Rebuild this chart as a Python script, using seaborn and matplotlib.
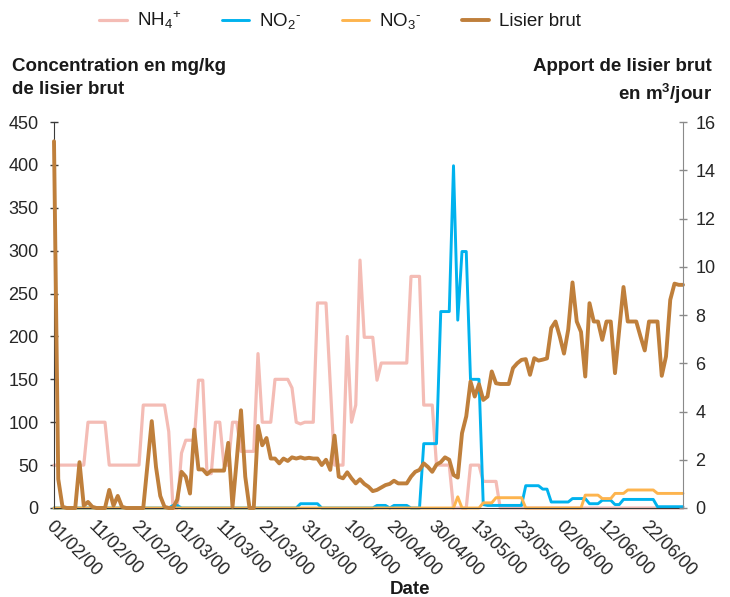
import numpy as np
import pandas as pd
import matplotlib
matplotlib.use("Agg")
import matplotlib.pyplot as plt
import seaborn as sns

# etiquettes de l'axe des dates (une tous les 10 points)
dates = ['01/02/00', '11/02/00', '21/02/00', '01/03/00', '11/03/00',
         '21/03/00', '31/03/00', '10/04/00', '20/04/00', '30/04/00',
         '13/05/00', '23/05/00', '02/06/00', '12/06/00', '22/06/00']

# concentrations en mg/kg de lisier brut
nh4 = [50, 50, 50, 50, 50, 50, 50, 50, 100, 100,
       100, 100, 100, 50, 50, 50, 50, 50, 50, 50,
       50, 120, 120, 120, 120, 120, 120, 89, 0, 0,
       64, 79, 79, 79, 149, 149, 40, 40, 100, 100,
       50, 50, 100, 100, 66, 66, 66, 66, 180, 100,
       100, 100, 150, 150, 150, 150, 140, 100, 98, 100,
       100, 100, 239, 239, 239, 145, 50, 50, 50, 200,
       100, 120, 289, 199, 199, 199, 149, 169, 169, 169,
       169, 169, 169, 169, 270, 270, 270, 120, 120, 120,
       50, 50, 50, 50, 0, 0, 0, 0, 50, 50,
       50, 31, 31, 31, 31, 0, 0, 0, 0, 0,
       0, 0, 0, 0, 0, 0, 0, 0, 0, 0,
       0, 0, 0, 0, 0, 0, 0, 0, 0, 0,
       0, 0, 0, 0, 0, 0, 0, 0, 0, 0,
       0, 0, 0, 0, 0, 0, 0, 0, 0]

no2 = [0, 0, 0, 0, 0, 0, 0, 0, 0, 0,
       0, 0, 0, 0, 0, 0, 0, 0, 0, 0,
       0, 0, 0, 0, 0, 0, 0, 0, 3, 3,
       0, 0, 0, 0, 0, 0, 0, 0, 0, 0,
       0, 0, 0, 0, 0, 0, 0, 0, 0, 0,
       0, 0, 0, 0, 0, 0, 0, 0, 5, 5,
       5, 5, 5, 0, 0, 0, 0, 0, 0, 0,
       0, 0, 0, 0, 0, 0, 3, 3, 3, 0,
       3, 3, 3, 3, 0, 0, 0, 75, 75, 75,
       75, 229, 229, 229, 399, 219, 299, 299, 150, 150,
       150, 4, 3, 3, 3, 3, 3, 3, 3, 3,
       3, 26, 26, 26, 26, 22, 22, 7, 7, 7,
       7, 7, 11, 11, 11, 11, 5, 5, 5, 9,
       9, 9, 4, 4, 10, 10, 10, 10, 10, 10,
       10, 10, 1.5, 1.5, 1.5, 1.5, 1.5, 1.5, 1.5]

no3 = [0, 0, 0, 0, 0, 0, 0, 0, 0, 0,
       0, 0, 0, 0, 0, 0, 0, 0, 0, 0,
       0, 0, 0, 0, 0, 0, 0, 0, 0, 0,
       0, 0, 0, 0, 0, 0, 0, 0, 0, 0,
       0, 0, 0, 0, 0, 0, 0, 0, 0, 0,
       0, 0, 0, 0, 0, 0, 0, 0, 0, 0,
       0, 0, 0, 0, 0, 0, 0, 0, 0, 0,
       0, 0, 0, 0, 0, 0, 0, 0, 0, 0,
       0, 0, 0, 0, 0, 0, 0, 0, 0, 0,
       0, 0, 0, 0, 0, 13, 0, 0, 0, 0,
       0, 6, 6, 6, 12, 12, 12, 12, 12, 12,
       12, 0, 0, 0, 0, 0, 0, 0, 0, 0,
       0, 0, 0, 0, 0, 15, 15, 15, 15, 11,
       11, 11, 17, 17, 17, 21, 21, 21, 21, 21,
       21, 21, 17, 17, 17, 17, 17, 17, 17]

# apport de lisier brut en m3/jour
lisier = [15.2, 1.2, 0.05, 0, 0, 0, 1.9, 0.1, 0.25, 0.05,
          0, 0, 0, 0.75, 0.1, 0.5, 0.05, 0, 0, 0,
          0, 0, 1.8, 3.6, 1.7, 0.5, 0.05, 0, 0, 0.35,
          1.5, 1.3, 0.6, 3.25, 1.6, 1.6, 1.4, 1.55, 1.55, 1.55,
          1.55, 2.7, 0.05, 2.0, 4.05, 1.3, 0, 0, 3.4, 2.6,
          2.9, 2.05, 2.05, 1.85, 2.05, 1.95, 2.1, 2.05, 2.1, 2.05,
          2.08, 2.05, 2.05, 1.78, 2.0, 1.58, 3.0, 1.3, 1.23, 1.48,
          1.23, 1.02, 1.19, 1.0, 0.88, 0.7, 0.75, 0.85, 0.95, 1.0,
          1.13, 1.02, 1.02, 1.02, 1.3, 1.5, 1.58, 1.85, 1.7, 1.5,
          1.8, 1.9, 2.1, 2.0, 1.37, 1.26, 3.1, 3.8, 5.24, 4.62,
          5.13, 4.48, 4.62, 5.66, 5.17, 5.14, 5.14, 5.14, 5.8, 6.0,
          6.14, 6.17, 5.52, 6.21, 6.11, 6.15, 6.2, 7.46, 7.73, 7.11,
          6.4, 7.4, 9.35, 7.73, 7.3, 5.45, 8.49, 7.73, 7.73, 6.97,
          7.73, 7.73, 5.59, 7.4, 9.16, 7.73, 7.73, 7.73, 7.11, 6.53,
          7.73, 7.73, 7.73, 5.48, 6.28, 8.63, 9.3, 9.25, 9.25]

sns.set_style("white")
plt.rcParams['font.family'] = ['Liberation Sans', 'DejaVu Sans']
plt.rcParams['mathtext.fontset'] = 'custom'
plt.rcParams['mathtext.rm'] = 'Liberation Sans'
plt.rcParams['mathtext.it'] = 'Liberation Sans:italic'
plt.rcParams['mathtext.bf'] = 'Liberation Sans:bold'
plt.rcParams['text.color'] = '#1a1a1a'

jour = np.arange(len(lisier))
df = pd.DataFrame({'jour': jour, 'nh4': nh4, 'no2': no2, 'no3': no3, 'lisier': lisier})

fig = plt.figure(figsize=(7.3, 5.97), dpi=100)
ax = fig.add_axes([54 / 730, 89 / 597, 629 / 730, 386 / 597])
ax2 = ax.twinx()

l1 = sns.lineplot(data=df, x='jour', y='nh4', ax=ax, color='#F4BCB5', lw=2.3, clip_on=False, legend=False).lines[-1]
l2 = sns.lineplot(data=df, x='jour', y='no2', ax=ax, color='#00B2EE', lw=2.1, clip_on=False, legend=False).lines[-1]
l3 = sns.lineplot(data=df, x='jour', y='no3', ax=ax, color='#FDB44E', lw=2.1, clip_on=False, legend=False).lines[-1]
l4 = sns.lineplot(data=df, x='jour', y='lisier', ax=ax2, color='#BF7F3B', lw=2.8, clip_on=False, legend=False).lines[-1]

ax.set_xlim(0, 148)
ax.set_ylim(0, 450)
ax2.set_ylim(0, 16)
ax.set_yticks(range(0, 451, 50))
ax2.set_yticks(range(0, 17, 2))
ax.set_xticks(range(0, 150, 10))
ax.set_xticklabels(dates, rotation=-45, ha='left', va='top', rotation_mode='anchor')
ax.set_xlabel('')
ax.set_ylabel('')
ax2.set_ylabel('')

for s in ['top', 'right']:
    ax.spines[s].set_visible(False)
for s in ['top', 'left', 'bottom']:
    ax2.spines[s].set_visible(False)
ax.spines['left'].set_color('#3a3a3a')
ax.spines['bottom'].set_color('#3a3a3a')
ax2.spines['right'].set_color('#8a8a8a')

ax.tick_params(axis='y', direction='inout', length=6, width=1, color='#3a3a3a', labelsize=13, pad=8)
ax.tick_params(axis='x', direction='out', length=3, width=1, color='#3a3a3a', labelsize=13, pad=4)
ax2.tick_params(axis='y', direction='inout', length=6, width=1, color='#8a8a8a', labelsize=13, pad=6)

fig.legend([l1, l2, l3, l4],
           [r'NH$_4$$^{\text{+}}$', r'NO$_2$$^{\text{-}}$', r'NO$_3$$^{\text{-}}$', 'Lisier brut'],
           loc='upper center', bbox_to_anchor=(0.466, 1.012), ncol=4, frameon=False,
           fontsize=13.5, handlelength=1.45, columnspacing=2.15, handletextpad=0.55)

fig.text(12 / 730, 1 - 58 / 597, 'Concentration en mg/kg\nde lisier brut', ha='left', va='top',
         fontweight='bold', fontsize=13.5, linespacing=1.45)
fig.text(712 / 730, 1 - 58 / 597, 'Apport de lisier brut\nen m$^{\\mathbf{3}}$/jour', ha='right', va='top',
         fontweight='bold', fontsize=13.5, linespacing=1.4, multialignment='right')
fig.text(410 / 730, 1 - 590 / 597, 'Date', ha='center', va='center', fontweight='bold', fontsize=13.5)

fig.savefig('out.png', dpi=100)
